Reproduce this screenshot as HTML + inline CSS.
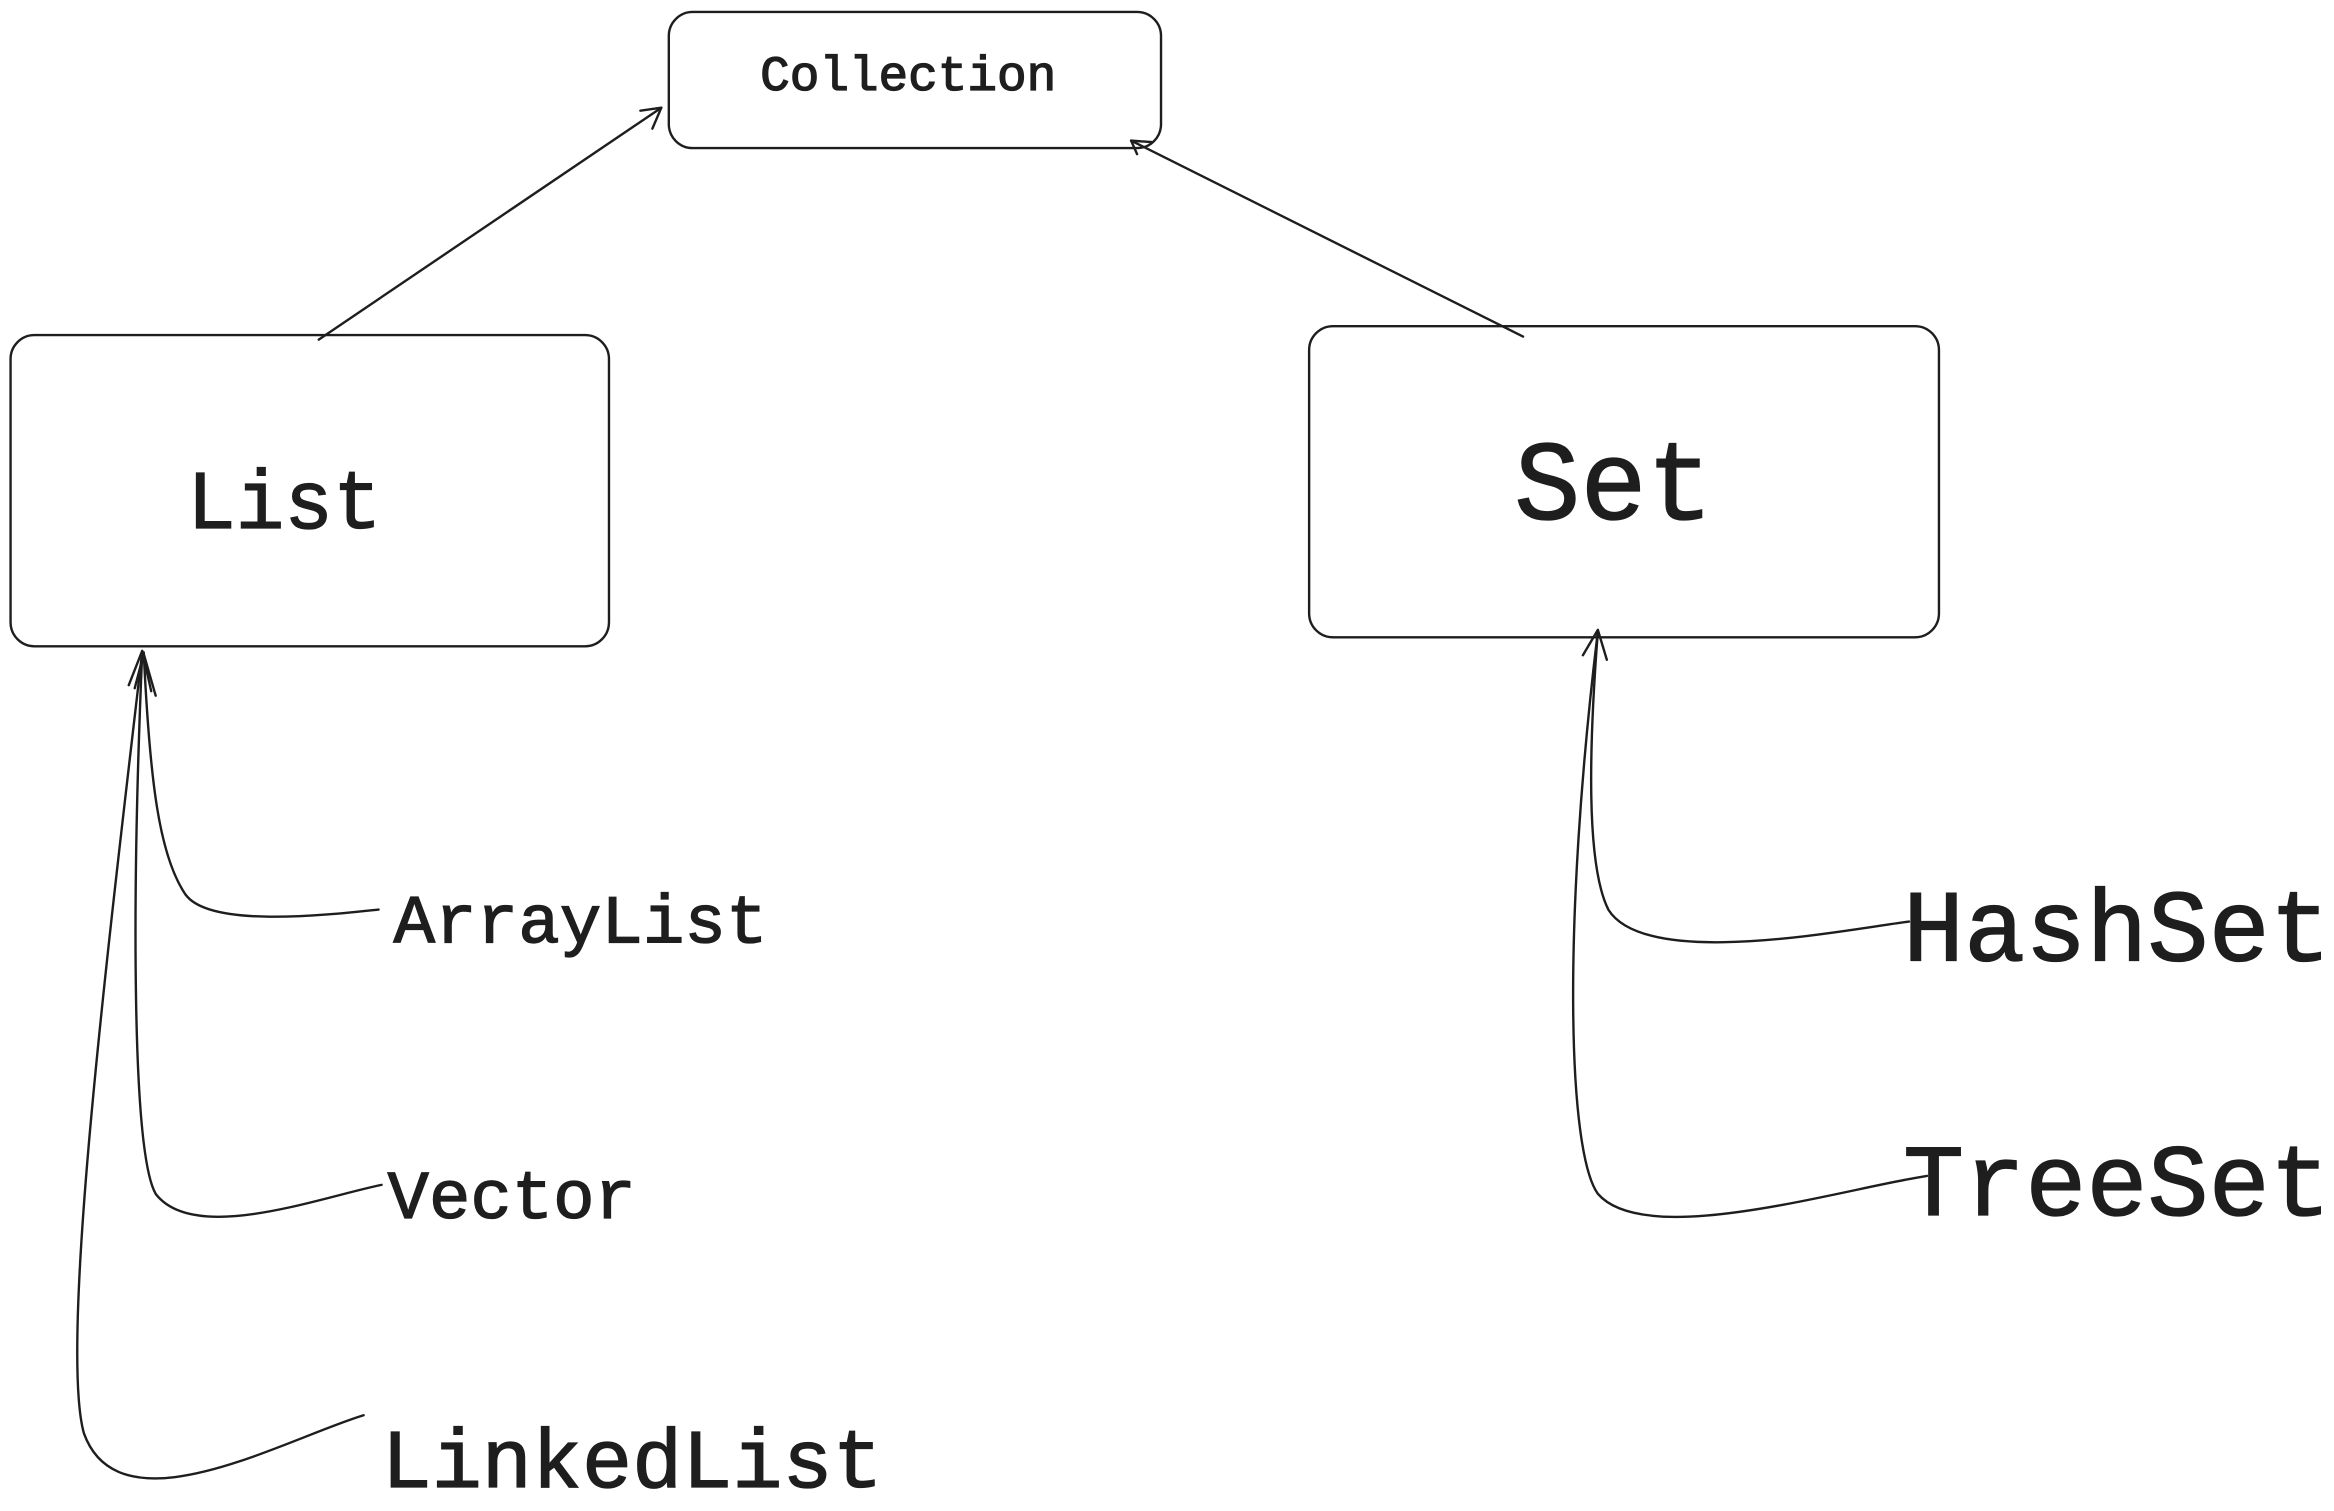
<!DOCTYPE html>
<html><head><meta charset="utf-8"><style>
html,body{margin:0;padding:0;background:#fff;}
svg{display:block;}
text{font-family:"Liberation Mono",monospace;fill:#1e1e1e;}
</style></head><body>
<svg width="2334" height="1511" viewBox="0 0 1560 1010" xmlns="http://www.w3.org/2000/svg">
<g fill="none" stroke="#1e1e1e" stroke-width="1.6" stroke-linecap="round" stroke-linejoin="round">
<rect x="447" y="8" width="329" height="91" rx="16"/>
<rect x="7" y="224" width="400" height="208" rx="16"/>
<rect x="875" y="218" width="421" height="208" rx="16"/>
<path d="M213,227 L442,72"/>
<path d="M428,74 L442,72 L436,86"/>
<path d="M1018,225 L756,94"/>
<path d="M760,103 L756,94 L770,95"/>
<path d="M253,608 C215,612 140,620 124,598 C106,572 100,520 96,436"/>
<path d="M255,792 C215,800 130,832 104,798 C88,770 88,600 95,436"/>
<path d="M243,946 C190,962 80,1025 56,958 C40,900 70,650 95,436"/>
<path d="M86,458 L95,435 L101,462"/>
<path d="M90,460 L96,437 L104,465"/>
<path d="M1276,616 C1230,622 1100,648 1075,608 C1060,578 1062,500 1068,422"/>
<path d="M1288,786 C1230,795 1100,835 1068,798 C1048,770 1044,620 1068,422"/>
<path d="M1058,438 L1068,421 L1074,441"/>
</g>
<g stroke="#1e1e1e" stroke-width="0.9">
<text x="508" y="60" font-size="33" textLength="198" lengthAdjust="spacingAndGlyphs">Collection</text>
<text x="125" y="353" font-size="56" textLength="130" lengthAdjust="spacingAndGlyphs">List</text>
<text x="1012" y="347" font-size="76" textLength="133" lengthAdjust="spacingAndGlyphs">Set</text>
<text x="263" y="630" font-size="46" textLength="250" lengthAdjust="spacingAndGlyphs">ArrayList</text>
<text x="259" y="814" font-size="46" textLength="166" lengthAdjust="spacingAndGlyphs">Vector</text>
<text x="255" y="994" font-size="56" textLength="335" lengthAdjust="spacingAndGlyphs">LinkedList</text>
<text x="1272" y="642" font-size="68" textLength="286" lengthAdjust="spacingAndGlyphs">HashSet</text>
<text x="1272" y="812" font-size="68" textLength="286" lengthAdjust="spacingAndGlyphs">TreeSet</text>
</g>
</svg>
</body></html>
